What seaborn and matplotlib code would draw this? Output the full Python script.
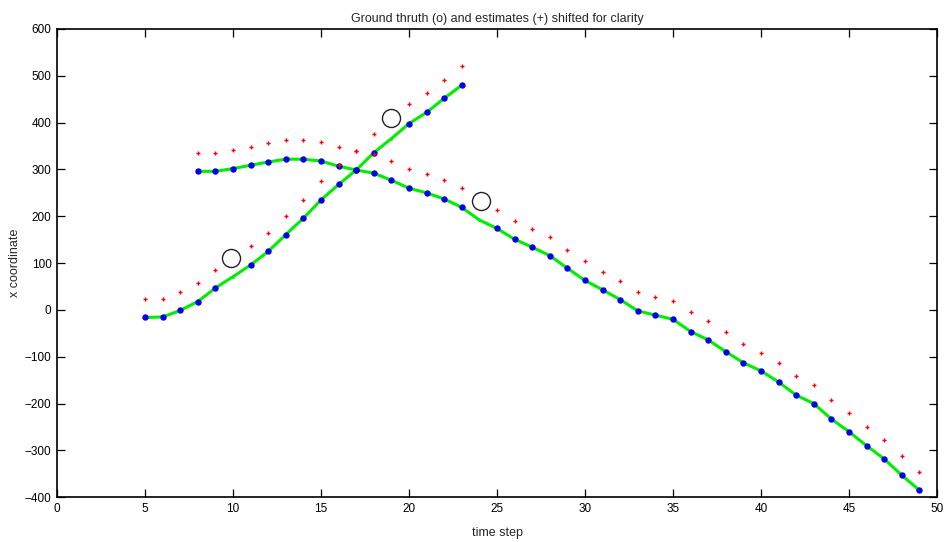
import numpy as np
import pandas as pd
import matplotlib
matplotlib.use("Agg")
import matplotlib.pyplot as plt
import seaborn as sns

# Track A: ground truth and shifted estimates (time steps 5..23)
steps_a = list(range(5, 24))
truth_a = [-16, -15, -1, 18, 47, 71, 96, 125, 161, 196, 235, 268, 299, 336, 366, 398, 422, 452, 480]
est_a = [24, 24, 39, 57, 85, np.nan, 136, 165, 200, 235, 275, 309, 339, 375, np.nan, 439, 463, 492, 521]
missed_a = [False, False, False, False, False, True, False, False, False, False,
            False, False, False, False, True, False, False, False, False]

# Track B: ground truth and shifted estimates (time steps 8..49)
steps_b = list(range(8, 50))
truth_b = [296, 296, 302, 309, 316, 322, 322, 318, 307, 299, 292, 277, 260, 250, 237, 219,
           192, 174, 151, 134, 116, 89, 63, 43, 22, -2, -11, -20, -46, -64, -89, -113,
           -130, -154, -182, -200, -233, -260, -290, -318, -353, -385]
est_b = [336, 336, 342, 348, 356, 362, 362, 358, 347, 339, 332, 318, 300, 290, 277, 260,
         np.nan, 214, 190, 173, 156, 129, 104, 82, 62, 38, 28, 20, -5, -24, -48, -72,
         -91, -114, -141, -161, -192, -220, -250, -278, -312, -345]
missed_b = [False] * 16 + [True] + [False] * 25

# Estimates plotted as open circles where the detection was missed
miss_steps = [9.9, 19.0, 24.1]
miss_values = [112, 411, 232]

title = "Ground thruth (o) and estimates (+) shifted for clarity"
x_ticks = list(range(0, 51, 5))
y_ticks = list(range(-400, 601, 100))

sns.set_theme(style="white")
plt.rcParams["font.family"] = ["Liberation Sans", "DejaVu Sans"]

track_a = pd.DataFrame({"step": steps_a, "truth": truth_a, "est": est_a, "missed": missed_a})
track_b = pd.DataFrame({"step": steps_b, "truth": truth_b, "est": est_b, "missed": missed_b})

fig = plt.figure(figsize=(9.44, 5.42), dpi=100)
ax = fig.add_axes([0.0604, 0.0825, 0.9322, 0.864])

for df in (track_a, track_b):
    sns.lineplot(data=df, x="step", y="truth", ax=ax, color="#00ee00", linewidth=2.2,
                 marker=".", markersize=4, markeredgewidth=0, estimator=None, sort=False)
    seen = df[~df["missed"]]
    ax.plot(seen["step"], seen["truth"], linestyle="none", marker="o", markersize=4.6,
            color="#0000ee", markeredgewidth=0, zorder=3)
    ax.plot(df["step"], df["est"], linestyle="none", marker="+", markersize=3,
            markeredgewidth=1.0, color="#ff0000", zorder=4)

ax.plot(miss_steps, miss_values, linestyle="none", marker="o", markersize=13,
        markerfacecolor="none", markeredgecolor="#222222", markeredgewidth=1.0, zorder=5)

ax.set_xlim(0, 50)
ax.set_ylim(-400, 600)
ax.set_xticks(x_ticks)
ax.set_yticks(y_ticks)
ax.set_xlabel("time step", fontsize=9, labelpad=9)
ax.set_ylabel("x coordinate", fontsize=9, labelpad=3)
ax.set_title(title, fontsize=9, pad=5)

for side in ax.spines.values():
    side.set_visible(True)
    side.set_color("black")
    side.set_linewidth(1.2)
ax.tick_params(direction="in", length=6, width=0.9, labelsize=8.5, colors="black",
               top=True, right=True, bottom=True, left=True, pad=4)
ax.grid(False)

fig.savefig("out.png", dpi=100, facecolor="white")
